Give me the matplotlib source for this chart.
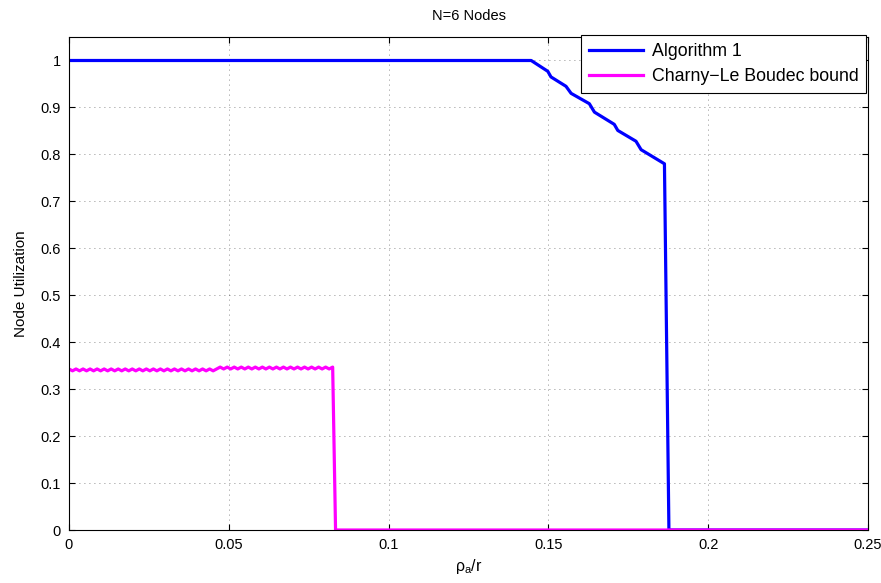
import numpy as np
import matplotlib
matplotlib.use("Agg")
import matplotlib.pyplot as plt

plt.rcParams['font.family'] = ['Liberation Sans', 'DejaVu Sans']
plt.rcParams['mathtext.fontset'] = 'custom'
plt.rcParams['mathtext.rm'] = 'Liberation Sans'
plt.rcParams['mathtext.it'] = 'Liberation Sans'

# Algorithm 1 curve
alg_x = [0.0, 0.1446, 0.1498, 0.1508, 0.1555, 0.1571, 0.1628, 0.1644,
         0.1706, 0.1717, 0.1774, 0.1790, 0.1863, 0.1877, 0.25]
alg_y = [1.0, 1.0, 0.977, 0.965, 0.945, 0.930, 0.908, 0.890,
         0.864, 0.851, 0.828, 0.810, 0.780, 0.0, 0.0]

# Charny-Le Boudec bound (wavy plateau, then drop to zero)
cb_x = [0.0, 0.0011, 0.0022, 0.0033, 0.0044, 0.0055, 0.0066, 0.0077, 0.0088, 0.0099,
        0.0110, 0.0121, 0.0132, 0.0143, 0.0154, 0.0165, 0.0176, 0.0187, 0.0198, 0.0209,
        0.0220, 0.0231, 0.0242, 0.0253, 0.0264, 0.0275, 0.0286, 0.0297, 0.0308, 0.0319,
        0.0330, 0.0341, 0.0352, 0.0363, 0.0374, 0.0385, 0.0396, 0.0407, 0.0418, 0.0429,
        0.0440, 0.0451, 0.0462, 0.0473, 0.0484, 0.0495, 0.0506, 0.0517, 0.0528, 0.0539,
        0.0550, 0.0561, 0.0572, 0.0583, 0.0594, 0.0605, 0.0616, 0.0627, 0.0638, 0.0649,
        0.0660, 0.0671, 0.0682, 0.0693, 0.0704, 0.0715, 0.0726, 0.0737, 0.0748, 0.0759,
        0.0770, 0.0781, 0.0792, 0.0803, 0.0814, 0.0825, 0.0834, 0.25]
cb_y = [0.343, 0.339, 0.343, 0.339, 0.343, 0.339, 0.343, 0.339, 0.343, 0.339,
        0.343, 0.339, 0.343, 0.339, 0.343, 0.339, 0.343, 0.339, 0.343, 0.339,
        0.343, 0.339, 0.343, 0.339, 0.343, 0.339, 0.343, 0.339, 0.343, 0.339,
        0.343, 0.339, 0.343, 0.339, 0.343, 0.339, 0.343, 0.339, 0.343, 0.339,
        0.343, 0.339, 0.343, 0.347, 0.343, 0.347, 0.343, 0.347, 0.343, 0.347,
        0.343, 0.347, 0.343, 0.347, 0.343, 0.347, 0.343, 0.347, 0.343, 0.347,
        0.343, 0.347, 0.343, 0.347, 0.343, 0.347, 0.343, 0.347, 0.343, 0.347,
        0.343, 0.347, 0.343, 0.347, 0.343, 0.347, 0.0, 0.0]

xticks = [0, 0.05, 0.1, 0.15, 0.2, 0.25]
xticklabels = ['0', '0.05', '0.1', '0.15', '0.2', '0.25']
yticks = [0, 0.1, 0.2, 0.3, 0.4, 0.5, 0.6, 0.7, 0.8, 0.9, 1]
yticklabels = ['0', '0.1', '0.2', '0.3', '0.4', '0.5', '0.6', '0.7', '0.8', '0.9', '1']

fig = plt.figure(figsize=(8.81, 5.83), dpi=100)
ax = fig.add_axes([0.0783, 0.0909, 0.907, 0.8456])

ax.plot(alg_x, alg_y, color='#0000ff', lw=2.3, label='Algorithm 1')
ax.plot(cb_x, cb_y, color='#ff00ff', lw=2.3, label='Charny\u2212Le Boudec bound')

ax.set_xlim(0, 0.25)
ax.set_ylim(0, 1.05)
ax.set_xticks(xticks)
ax.set_xticklabels(xticklabels)
ax.set_yticks(yticks)
ax.set_yticklabels(yticklabels)
ax.tick_params(direction='in', top=True, right=True, length=4, labelsize=10.5, pad=6)
ax.grid(True, color='black', linestyle=(0, (1, 5)), linewidth=0.6, alpha=0.6)

ax.set_title('N=6 Nodes', fontsize=10.5, pad=12)
ax.set_xlabel(r'$\rho_a$/r', fontsize=11.5, labelpad=3)
ax.set_ylabel('Node Utilization', fontsize=11, labelpad=9)

leg = ax.legend(loc='upper right', bbox_to_anchor=(0.998, 1.004), fontsize=12.8,
                handlelength=3.0, handletextpad=0.5, borderaxespad=0.0,
                fancybox=False, framealpha=1, edgecolor='black',
                borderpad=0.45, labelspacing=0.45)
leg.get_frame().set_linewidth(0.8)

fig.savefig('out.png', dpi=100)
